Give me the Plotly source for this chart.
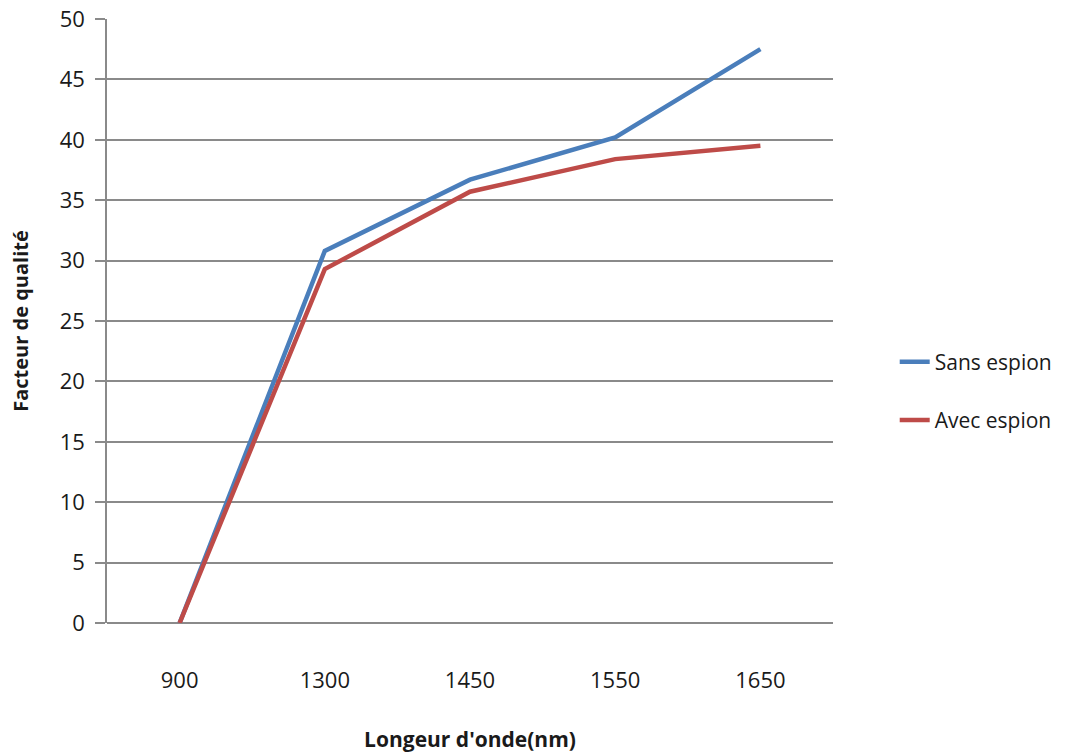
import plotly.graph_objects as go

# Wavelengths (nm) shown as categories on the x axis
wavelengths = ["900", "1300", "1450", "1550", "1650"]

# Quality factor per wavelength
sans_espion = [0, 30.8, 36.7, 40.2, 47.5]
avec_espion = [0, 29.3, 35.7, 38.4, 39.5]

y_ticks = list(range(0, 51, 5))

FONT = "Open Sans, Liberation Sans, sans-serif"
GRID = "#8a8a8a"

fig = go.Figure()
fig.add_trace(go.Scatter(
    x=wavelengths, y=sans_espion, name="Sans espion", mode="lines",
    line=dict(color="#4a7ebb", width=4.5), legendgroup="a",
))
fig.add_trace(go.Scatter(
    x=wavelengths, y=avec_espion, name="Avec espion", mode="lines",
    line=dict(color="#be4b48", width=4.5), legendgroup="b",
))

fig.update_layout(
    width=1070, height=754,
    margin=dict(l=107, r=237, t=19, b=131, autoexpand=False),
    paper_bgcolor="white", plot_bgcolor="white",
    font=dict(family=FONT, color="#1a1a1a", size=22),
    showlegend=True,
    legend=dict(
        x=1.085, xanchor="left", y=0.384, yanchor="middle",
        font=dict(size=21, family=FONT), tracegroupgap=28,
        bgcolor="rgba(0,0,0,0)",
    ),
)

fig.update_xaxes(
    type="category", range=[-0.5, 4.5], automargin=False,
    showgrid=False, showline=False, zeroline=False,
    ticks="outside", ticklen=38, tickcolor="rgba(0,0,0,0)",
    tickfont=dict(size=22, family=FONT),
    title=dict(text="Longeur d'onde(nm)", standoff=38,
               font=dict(size=21, family=FONT, weight="bold")),
)

fig.update_yaxes(
    range=[0, 50], tickvals=y_ticks, automargin=False,
    showgrid=True, gridcolor=GRID, gridwidth=1.6,
    showline=True, linecolor=GRID, linewidth=1.6,
    zeroline=True, zerolinecolor=GRID, zerolinewidth=1.6,
    ticks="outside", ticklen=10, tickcolor=GRID, tickwidth=1.6,
    ticklabelstandoff=6,
    tickfont=dict(size=22, family=FONT),
    title=dict(text="Facteur de qualité", standoff=26,
               font=dict(size=20, family=FONT, weight="bold")),
)

fig.write_html("out.html")
